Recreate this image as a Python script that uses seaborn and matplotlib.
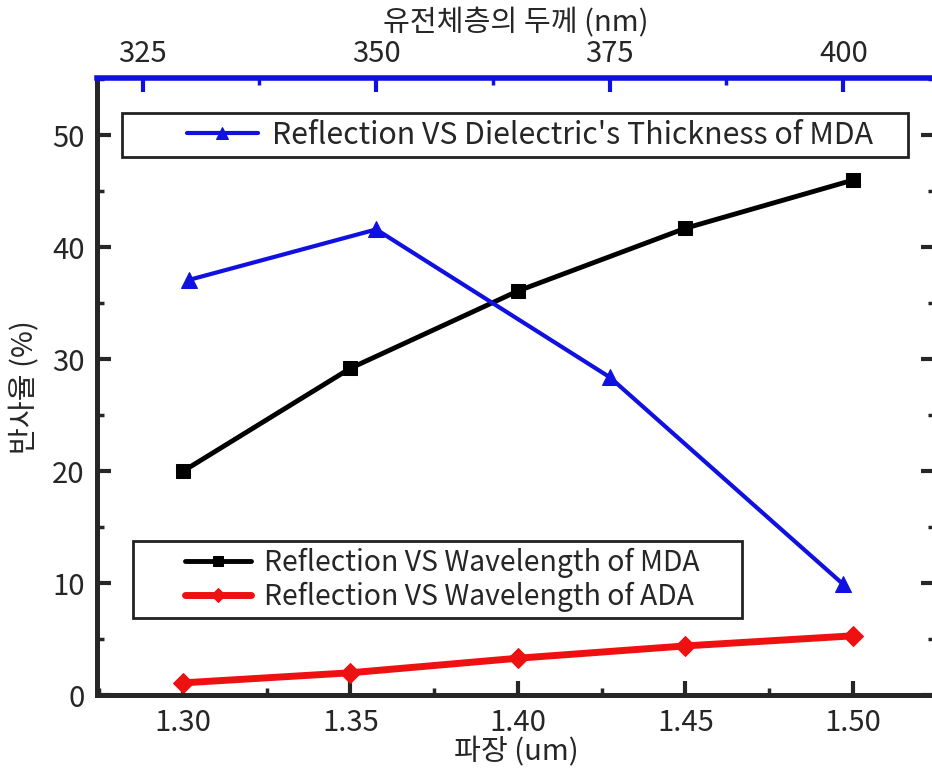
import matplotlib
matplotlib.use("Agg")
import matplotlib.pyplot as plt
import seaborn as sns
import pandas as pd
from matplotlib.patches import Rectangle
from matplotlib.ticker import MultipleLocator, FormatStrFormatter

# wavelength series (bottom axis, um)
wavelength = [1.30, 1.35, 1.40, 1.45, 1.50]
refl_mda = [20.0, 29.2, 36.1, 41.7, 46.0]
refl_ada = [1.1, 2.0, 3.3, 4.4, 5.3]

# thickness series (top axis, nm)
thickness = [330, 350, 375, 400]
refl_thick = [37.1, 41.6, 28.4, 9.9]

sns.set_style("ticks")
plt.rcParams['font.family'] = ['Noto Sans CJK KR', 'DejaVu Sans']

fig = plt.figure(figsize=(9.32, 7.75), dpi=100)
ax = fig.add_axes([0.104, 0.103, 0.899, 0.796])
ax2 = ax.twiny()

df_w = pd.DataFrame({'x': wavelength, 'mda': refl_mda, 'ada': refl_ada})
df_t = pd.DataFrame({'x': thickness, 'y': refl_thick})

sns.lineplot(data=df_w, x='x', y='mda', ax=ax, color='black', marker='s',
             markersize=10, linewidth=3.5, markeredgecolor='black',
             label='Reflection VS Wavelength of MDA')
sns.lineplot(data=df_w, x='x', y='ada', ax=ax, color='#ee1111', marker='D',
             markersize=10, linewidth=5, markeredgecolor='#ee1111',
             label='Reflection VS Wavelength of ADA')
sns.lineplot(data=df_t, x='x', y='y', ax=ax2, color='#1010e0', marker='^',
             markersize=11, linewidth=3, markeredgecolor='#1010e0',
             label="Reflection VS Dielectric's Thickness of MDA")

ax.set_xlim(1.2743, 1.5245)
ax.set_ylim(0, 55.1)
ax2.set_xlim(320.1, 409.8)

ax.xaxis.set_major_locator(MultipleLocator(0.05))
ax.xaxis.set_minor_locator(MultipleLocator(0.025))
ax.yaxis.set_major_locator(MultipleLocator(10))
ax.yaxis.set_minor_locator(MultipleLocator(5))
ax2.xaxis.set_major_locator(MultipleLocator(25))
ax2.xaxis.set_minor_locator(MultipleLocator(12.5))
ax.xaxis.set_major_formatter(FormatStrFormatter('%.2f'))

ax.tick_params(axis='both', which='major', direction='in', length=10, width=3,
               labelsize=21, right=True, pad=9)
ax.tick_params(axis='both', which='minor', direction='in', length=5, width=2.5,
               right=True)
ax.tick_params(axis='x', which='both', top=False)
ax2.tick_params(axis='x', which='major', direction='in', length=10, width=3,
                labelsize=21, color='#1010e0', pad=7)
ax2.tick_params(axis='x', which='minor', direction='in', length=5, width=2.5,
                color='#1010e0')

for side in ['left', 'bottom', 'right']:
    ax.spines[side].set_linewidth(3.5)
    ax2.spines[side].set_linewidth(3.5)
ax2.spines['top'].set_linewidth(4)
ax2.spines['top'].set_color('#1010e0')
ax.spines['top'].set_visible(False)

ax.set_xlabel('파장 (um)', fontsize=21, labelpad=0)
ax.set_ylabel('반사율 (%)', fontsize=21, labelpad=8)
ax2.set_xlabel('유전체층의 두께 (nm)', fontsize=21, labelpad=5)

# legend frames drawn as boxes so the padding matches the original
ax.add_patch(Rectangle((0.043, 0.1248), 0.727, 0.1248, transform=ax.transAxes,
                       facecolor='white', edgecolor='#222222', linewidth=2,
                       zorder=4))
ax2.add_patch(Rectangle((0.0298, 0.8721), 0.9382, 0.0713, transform=ax2.transAxes,
                        facecolor='white', edgecolor='#222222', linewidth=2,
                        zorder=4))

leg1 = ax.legend(loc='center left', bbox_to_anchor=(0.105, 0.1872), fontsize=20.4,
                 frameon=False, handlelength=2.35, borderpad=0, labelspacing=0.12,
                 handletextpad=0.45, markerscale=0.7, borderaxespad=0)
leg1.set_zorder(5)
leg2 = ax2.legend(loc='center left', bbox_to_anchor=(0.1074, 0.9078), fontsize=21.8,
                  frameon=False, handlelength=2.35, borderpad=0, handletextpad=0.45,
                  markerscale=0.8, borderaxespad=0)
leg2.set_zorder(5)

fig.savefig('out.png', dpi=100)
